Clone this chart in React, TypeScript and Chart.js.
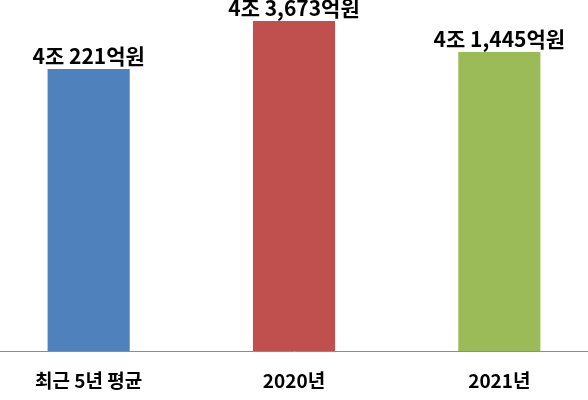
import { useEffect, useRef } from "react";
import { Chart, registerables } from "chart.js";

Chart.register(...registerables);

// categories and bar heights (axis 0..351)
const categories = ["최근 5년 평균", "2020년", "2021년"];
const barHeights = [282, 330, 299];
const valueLabels = ["4조 221억원", "4조 3,673억원", "4조 1,445억원"];
const barColors = ["#4F81BD", "#C0504D", "#9BBB59"];

const FONT = "'Noto Sans CJK KR', 'Noto Sans', sans-serif";

const valueLabelPlugin = {
  id: "valueLabels",
  afterDatasetsDraw(chart: Chart) {
    const { ctx } = chart;
    const meta = chart.getDatasetMeta(0);
    ctx.save();
    ctx.font = `bold 21px ${FONT}`;
    ctx.fillStyle = "#000";
    ctx.textAlign = "center";
    ctx.textBaseline = "alphabetic";
    meta.data.forEach((bar: any, i: number) => {
      ctx.fillText(valueLabels[i], bar.x, bar.y - 5);
    });
    ctx.restore();
  },
};

export default function App() {
  const chartRef = useRef<HTMLCanvasElement>(null);

  useEffect(() => {
    if (!chartRef.current) return;
    const ctx = chartRef.current.getContext("2d");
    if (!ctx) return;

    const myChart = new Chart(ctx, {
      type: "bar",
      data: {
        labels: categories,
        datasets: [
          {
            data: barHeights,
            backgroundColor: barColors,
            borderWidth: 0,
            categoryPercentage: 1,
            barPercentage: 0.4,
          },
        ],
      },
      options: {
        responsive: false,
        animation: false,
        layout: { padding: 0 },
        plugins: {
          legend: { display: false },
          tooltip: { enabled: false },
        },
        scales: {
          x: {
            grid: { display: false, drawTicks: false },
            border: { display: true, color: "#8c8c8c", width: 1 },
            ticks: {
              color: "#000",
              padding: 18,
              font: { family: FONT, size: 19, weight: "bold" },
            },
            afterFit(scale: any) {
              scale.height = 49;
            },
          },
          y: {
            display: false,
            min: 0,
            max: 351,
          },
        },
      },
      plugins: [valueLabelPlugin],
    });

    return () => {
      myChart.destroy();
    };
  }, []);

  return (
    <div
      style={{
        position: "fixed",
        left: 0,
        top: 0,
        width: 588,
        height: 400,
        overflow: "hidden",
        background: "#fff",
      }}
    >
      <canvas
        ref={chartRef}
        width={616}
        height={400}
        style={{ position: "absolute", left: -14, top: 0, width: 616, height: 400 }}
      />
    </div>
  );
}
